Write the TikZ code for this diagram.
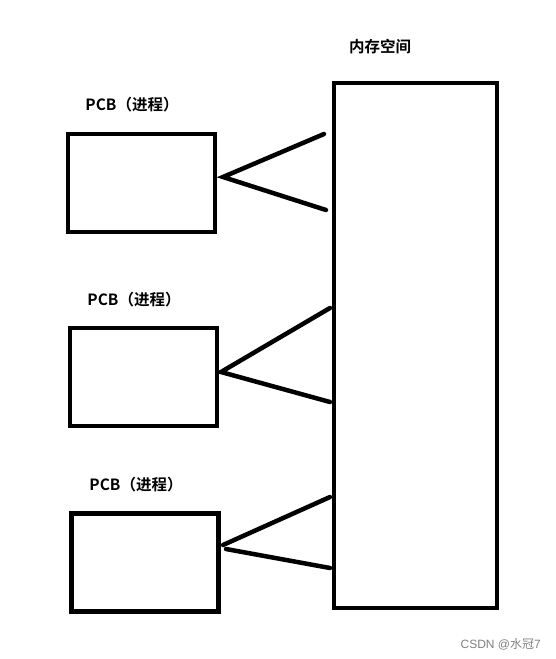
\documentclass[tikz,border=0pt]{standalone}
\usepackage{fontspec}
\newfontfamily\cjk{Noto Sans CJK SC}[BoldFont={Noto Sans CJK SC Bold}]
\newfontfamily\wm{Liberation Sans}
\begin{document}
\begin{tikzpicture}[x=1pt,y=-1pt,
  pcbbox/.style={draw,line width=4.5pt,minimum width=147pt,minimum height=98pt,inner sep=0pt,outer sep=0pt},
  link/.style={line width=4.5pt,line cap=round},
  lbl/.style={font=\cjk\bfseries\fontsize{15.5}{17}\selectfont,inner sep=0pt}]
\useasboundingbox (0,0) rectangle (555,659);
\node[draw,line width=4.5pt,minimum width=163pt,minimum height=525pt,inner sep=0pt,outer sep=0pt] (mem) at (415.5,345.5) {};
\node[lbl] (memlbl) at (380,47) {内存空间};
\node[pcbbox] (p1) at (141.5,183) {};
\node[pcbbox] (p2) at (143.5,377) {};
\node[pcbbox] (p3) at (145,562.5) {};
\node[lbl] (l1) at (132,105) {PCB（进程）};
\node[lbl] (l2) at (134,300) {PCB（进程）};
\node[lbl] (l3) at (136,485) {PCB（进程）};
\coordinate (a1) at (223,177);
\coordinate (b1) at (324,134);
\coordinate (c1) at (326,210);
\coordinate (a2) at (221,372);
\coordinate (b2) at (330,308);
\coordinate (c2) at (330,402);
\coordinate (a3) at (223,545);
\coordinate (a3b) at (226,549);
\coordinate (b3) at (330,497);
\coordinate (c3) at (330,568);
\draw[link] (b1) -- (a1) -- (c1);
\draw[link] (b2) -- (a2) -- (c2);
\draw[link] (a3) -- (b3);
\draw[link] (a3b) -- (c3);
\node[font=\wm\fontsize{12}{14}\selectfont,text=gray,anchor=east,inner sep=0pt] (wmk) at (541,644) {CSDN @{\cjk 水冠}7};
\end{tikzpicture}
\end{document}
